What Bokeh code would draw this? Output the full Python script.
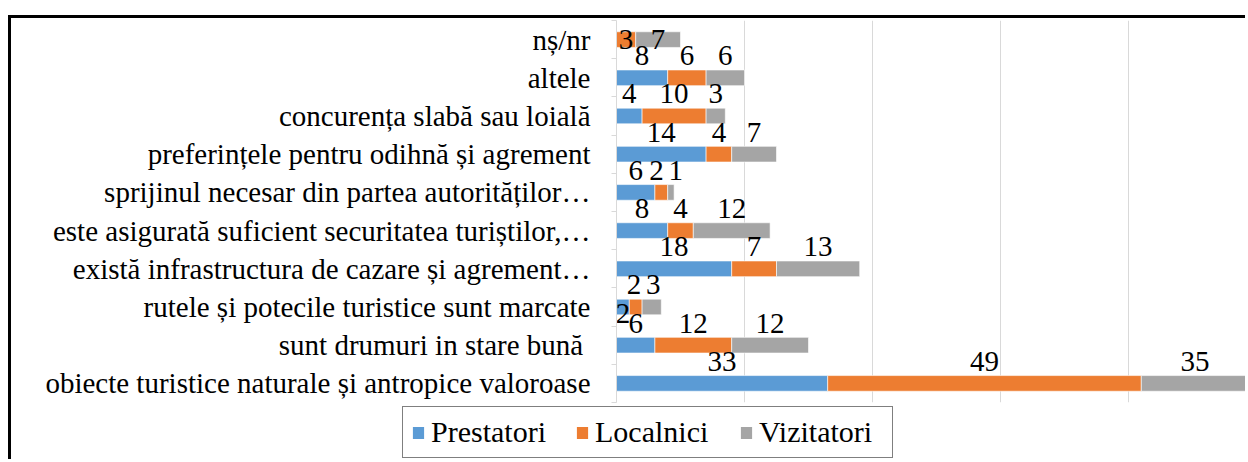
from bokeh.plotting import figure
from bokeh.models import ColumnDataSource, Range1d, FixedTicker, Legend, LegendItem
from bokeh.core.properties import value
from bokeh.embed import file_html
from bokeh.resources import INLINE

categories = [
    "obiecte turistice naturale și antropice valoroase",
    "sunt drumuri in stare bună ",
    "rutele și potecile turistice sunt marcate",
    "există infrastructura de cazare și agrement…",
    "este asigurată suficient securitatea turiștilor,…",
    "sprijinul necesar din partea autorităților…",
    "preferințele pentru odihnă și agrement",
    "concurența slabă sau loială",
    "altele",
    "nș/nr",
]
series_names = ["Prestatori", "Localnici", "Vizitatori"]
prestatori = [33, 6, 2, 18, 8, 6, 14, 4, 8, 0]
localnici = [49, 12, 2, 7, 4, 2, 4, 10, 6, 3]
vizitatori = [35, 12, 3, 13, 12, 1, 7, 3, 6, 7]
x_ticks = [0, 20, 40, 60, 80]

colors = ["#5B9BD5", "#ED7D31", "#A5A5A5"]
FONT = "Liberation Serif"
FS = "29px"
XMAX = 98.75
W = 1237

n = len(categories)
ys = list(range(n))
series = [prestatori, localnici, vizitatori]

p = figure(width=W, height=388, output_backend="svg", toolbar_location=None,
           x_range=Range1d(0, XMAX), y_range=Range1d(-0.5, n - 0.5),
           min_border_left=605, min_border_right=0, min_border_top=2, min_border_bottom=4)
p.outline_line_color = None
p.styles = {"margin-left": "8px", "margin-top": "15px",
            "border-top": "3px solid black", "border-left": "3px solid black"}

# bars
bar_renderers = []
lefts = [0] * n
for name, vals, col in zip(series_names, series, colors):
    rights = [l + v for l, v in zip(lefts, vals)]
    src = ColumnDataSource(dict(y=ys, left=lefts, right=rights))
    r = p.hbar(y="y", left="left", right="right", height=0.41, source=src,
               fill_color=col, line_color="white", line_width=0.6)
    bar_renderers.append(r)
    lefts = rights

# data labels (centred on the visible part of each segment, spread when crowded)
MINSEP = 3.0
ABOVE = 0.58
lx, ly, lt = [], [], []
for i in range(n):
    left = 0
    row = []
    for vals in series:
        v = vals[i]
        if v > 0:
            right = min(left + v, XMAX)
            row.append([(left + right) / 2, str(v), i + ABOVE])
        left += v
    if i == n - 1:
        for r in row:
            r[2] = i
    elif len(row) > 1 and row[1][0] - row[0][0] < 2.5:
        row[0][2] = i - 0.18
    above = [r for r in row if r[2] > i]
    for a, b in zip(above, above[1:]):
        d = b[0] - a[0]
        if d < MINSEP:
            a[0] -= (MINSEP - d) / 2
            b[0] += (MINSEP - d) / 2
    for cx, t, y in row:
        lx.append(cx); ly.append(y); lt.append(t)
p.text(x="x", y="y", text="t", source=ColumnDataSource(dict(x=lx, y=ly, t=lt)),
       text_font=value(FONT), text_font_size=FS, text_color="black",
       text_align="center", text_baseline="middle")

# axes
p.xaxis.visible = False
p.xaxis.ticker = FixedTicker(ticks=x_ticks)
p.xgrid.grid_line_color = "#d9d9d9"
p.xgrid.grid_line_width = 1
p.ygrid.grid_line_color = None

ya = p.yaxis[0]
ya.ticker = FixedTicker(ticks=ys, minor_ticks=[i - 0.5 for i in range(n + 1)])
ya.major_label_overrides = {i: c for i, c in enumerate(categories)}
ya.major_tick_out = 0
ya.major_tick_in = 0
ya.minor_tick_out = 5
ya.minor_tick_in = 0
ya.minor_tick_line_color = "#d9d9d9"
ya.axis_line_color = "#d9d9d9"
ya.major_label_standoff = 21
ya.major_label_text_font = FONT
ya.major_label_text_font_size = FS
ya.major_label_text_color = "black"

# legend strip below the chart (separate root, so frames are not aligned)
p2 = figure(width=W, height=56, output_backend="svg", toolbar_location=None,
            x_range=Range1d(0, W), y_range=Range1d(0, 56),
            min_border_left=0, min_border_right=0, min_border_top=0, min_border_bottom=0)
p2.axis.visible = False
p2.grid.visible = False
p2.outline_line_color = None
p2.styles = {"margin-left": "8px", "border-left": "3px solid black"}
items = []
for name, col in zip(series_names, colors):
    # swatch renderer only (its single point lies outside the visible range)
    r = p2.rect(x=[-1000], y=[-1000], width=[1], height=[1], fill_color=col, line_color=None)
    items.append(LegendItem(label=name, renderers=[r]))
legend = Legend(items=items, orientation="horizontal", location=(391, 1),
                label_text_font=FONT, label_text_font_size="30px", label_text_color="black",
                glyph_width=14, glyph_height=15, label_standoff=6, label_width=125,
                spacing=19, padding=8, margin=0,
                border_line_color="black", border_line_width=1.5,
                background_fill_alpha=1)
p2.add_layout(legend, "center")

open("out.html", "w").write(file_html([p, p2], INLINE))
